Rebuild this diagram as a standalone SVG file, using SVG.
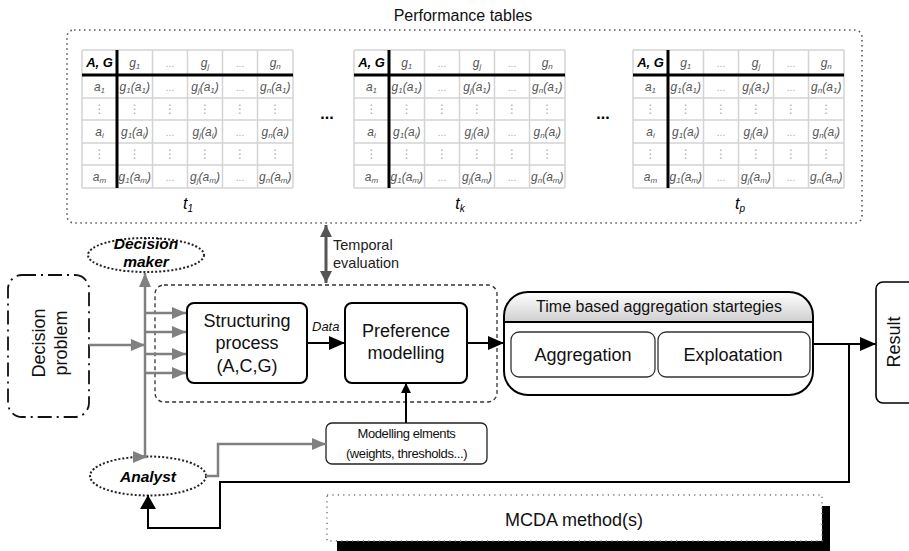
<svg xmlns="http://www.w3.org/2000/svg" width="909" height="551" viewBox="0 0 909 551">
<style>
text{font-family:"Liberation Sans",Arial,sans-serif}
.grid{stroke:#d4d4d4;stroke-width:1.5;fill:none}
.thick{stroke:#000;stroke-width:3;fill:none}
.c{font-size:12px;font-style:italic;fill:#555;text-anchor:middle}
.s{font-size:8px}
.hd{font-size:13px;font-style:italic;font-weight:bold;fill:#000;text-anchor:middle}
.dt{font-size:10px;fill:#aaa;text-anchor:middle}
.v{font-size:12px;fill:#aaa;text-anchor:middle;font-family:"DejaVu Sans",sans-serif}
.tl{font-size:16px;font-style:italic;text-anchor:middle}
.box{fill:#fff;stroke:#000;stroke-width:2}
.lbl{font-size:18px;text-anchor:middle;fill:#111}
.ell{fill:#fff;stroke:#222;stroke-width:2;stroke-dasharray:2 2}
.bi{font-size:15.5px;font-style:italic;font-weight:bold;text-anchor:middle}
.gray{stroke:#808080;stroke-width:2.5;fill:none}
.blk{stroke:#000;stroke-width:2;fill:none}
</style>
<defs>
<linearGradient id="hdr" x1="0" y1="0" x2="0" y2="1"><stop offset="0" stop-color="#fff"/><stop offset="1" stop-color="#cfcfcf"/></linearGradient>
<marker id="ag" markerUnits="userSpaceOnUse" markerWidth="14" markerHeight="12" refX="14" refY="6" orient="auto"><path d="M0,0L14,6L0,12z" fill="#808080"/></marker>
<marker id="ab" markerUnits="userSpaceOnUse" markerWidth="16" markerHeight="14" refX="16" refY="7" orient="auto"><path d="M0,0L16,7L0,14z" fill="#000"/></marker>
<marker id="abs" markerUnits="userSpaceOnUse" markerWidth="10" markerHeight="10" refX="10" refY="5" orient="auto"><path d="M0,0L10,5L0,10z" fill="#000"/></marker>
<marker id="abt" markerUnits="userSpaceOnUse" markerWidth="14" markerHeight="16" refX="14" refY="8" orient="auto"><path d="M0,0L14,8L0,16z" fill="#000"/></marker>
<marker id="ad" markerUnits="userSpaceOnUse" markerWidth="12" markerHeight="12" refX="12" refY="6" orient="auto-start-reverse"><path d="M0,0L12,6L0,12z" fill="#555"/></marker>
</defs>

<!-- Performance tables container -->
<g id="performance-tables">
<rect x="67" y="30" width="795" height="193" rx="7" fill="none" stroke="#555" stroke-width="1.6" stroke-dasharray="1.5 3.5"/>
<text x="463" y="21" font-size="16" text-anchor="middle" fill="#111">Performance tables</text>
<text x="327" y="119" font-size="16" font-weight="bold" text-anchor="middle">...</text>
<text x="603" y="119" font-size="16" font-weight="bold" text-anchor="middle">...</text>
</g>

<g id="table-t1" transform="translate(82,50)">
<path class="grid" d="M0,0H211M0,48H211M0,70H211M0,93H211M0,115H211M0,138H211M0,0V138M70.5,0V138M105.5,0V138M140.5,0V138M175.5,0V138M211,0V138"/>
<path class="thick" d="M0,25H211M35,0V138"/>
<text class="hd" x="17.5" y="17">A, G</text>
<text class="c" x="52.75" y="17">g<tspan class="s" dy="2">1</tspan></text>
<text class="dt" x="88" y="17">...</text>
<text class="c" x="123" y="17">g<tspan class="s" dy="2">j</tspan></text>
<text class="dt" x="158" y="17">...</text>
<text class="c" x="193.25" y="17">g<tspan class="s" dy="2">n</tspan></text>
<text class="c" x="17.5" y="40.5">a<tspan class="s" dy="2">1</tspan></text>
<text class="c" x="52.75" y="40.5">g<tspan class="s" dy="2">1</tspan><tspan dy="-2">(a</tspan><tspan class="s" dy="2">1</tspan><tspan dy="-2">)</tspan></text>
<text class="dt" x="88" y="40.5">...</text>
<text class="c" x="123" y="40.5">g<tspan class="s" dy="2">j</tspan><tspan dy="-2">(a</tspan><tspan class="s" dy="2">1</tspan><tspan dy="-2">)</tspan></text>
<text class="dt" x="158" y="40.5">...</text>
<text class="c" x="193.25" y="40.5">g<tspan class="s" dy="2">n</tspan><tspan dy="-2">(a</tspan><tspan class="s" dy="2">1</tspan><tspan dy="-2">)</tspan></text>
<text class="v" x="17.5" y="63">⋮</text><text class="v" x="52.75" y="63">⋮</text><text class="v" x="88" y="63">⋮</text><text class="v" x="123" y="63">⋮</text><text class="v" x="158" y="63">⋮</text><text class="v" x="193.25" y="63">⋮</text>
<text class="c" x="17.5" y="85.5">a<tspan class="s" dy="2">i</tspan></text>
<text class="c" x="52.75" y="85.5">g<tspan class="s" dy="2">1</tspan><tspan dy="-2">(a</tspan><tspan class="s" dy="2">i</tspan><tspan dy="-2">)</tspan></text>
<text class="dt" x="88" y="85.5">...</text>
<text class="c" x="123" y="85.5">g<tspan class="s" dy="2">j</tspan><tspan dy="-2">(a</tspan><tspan class="s" dy="2">i</tspan><tspan dy="-2">)</tspan></text>
<text class="dt" x="158" y="85.5">...</text>
<text class="c" x="193.25" y="85.5">g<tspan class="s" dy="2">n</tspan><tspan dy="-2">(a</tspan><tspan class="s" dy="2">i</tspan><tspan dy="-2">)</tspan></text>
<text class="v" x="17.5" y="108">⋮</text><text class="v" x="52.75" y="108">⋮</text><text class="v" x="88" y="108">⋮</text><text class="v" x="123" y="108">⋮</text><text class="v" x="158" y="108">⋮</text><text class="v" x="193.25" y="108">⋮</text>
<text class="c" x="17.5" y="130.5">a<tspan class="s" dy="2">m</tspan></text>
<text class="c" x="52.75" y="130.5">g<tspan class="s" dy="2">1</tspan><tspan dy="-2">(a</tspan><tspan class="s" dy="2">m</tspan><tspan dy="-2">)</tspan></text>
<text class="dt" x="88" y="130.5">...</text>
<text class="c" x="123" y="130.5">g<tspan class="s" dy="2">j</tspan><tspan dy="-2">(a</tspan><tspan class="s" dy="2">m</tspan><tspan dy="-2">)</tspan></text>
<text class="dt" x="158" y="130.5">...</text>
<text class="c" x="193.25" y="130.5">g<tspan class="s" dy="2">n</tspan><tspan dy="-2">(a</tspan><tspan class="s" dy="2">m</tspan><tspan dy="-2">)</tspan></text>
<text class="tl" x="106" y="159">t<tspan font-size="10" dy="3">1</tspan></text>
</g>

<g id="table-tk" transform="translate(354,50)">
<path class="grid" d="M0,0H211M0,48H211M0,70H211M0,93H211M0,115H211M0,138H211M0,0V138M70.5,0V138M105.5,0V138M140.5,0V138M175.5,0V138M211,0V138"/>
<path class="thick" d="M0,25H211M35,0V138"/>
<text class="hd" x="17.5" y="17">A, G</text>
<text class="c" x="52.75" y="17">g<tspan class="s" dy="2">1</tspan></text>
<text class="dt" x="88" y="17">...</text>
<text class="c" x="123" y="17">g<tspan class="s" dy="2">j</tspan></text>
<text class="dt" x="158" y="17">...</text>
<text class="c" x="193.25" y="17">g<tspan class="s" dy="2">n</tspan></text>
<text class="c" x="17.5" y="40.5">a<tspan class="s" dy="2">1</tspan></text>
<text class="c" x="52.75" y="40.5">g<tspan class="s" dy="2">1</tspan><tspan dy="-2">(a</tspan><tspan class="s" dy="2">1</tspan><tspan dy="-2">)</tspan></text>
<text class="dt" x="88" y="40.5">...</text>
<text class="c" x="123" y="40.5">g<tspan class="s" dy="2">j</tspan><tspan dy="-2">(a</tspan><tspan class="s" dy="2">1</tspan><tspan dy="-2">)</tspan></text>
<text class="dt" x="158" y="40.5">...</text>
<text class="c" x="193.25" y="40.5">g<tspan class="s" dy="2">n</tspan><tspan dy="-2">(a</tspan><tspan class="s" dy="2">1</tspan><tspan dy="-2">)</tspan></text>
<text class="v" x="17.5" y="63">⋮</text><text class="v" x="52.75" y="63">⋮</text><text class="v" x="88" y="63">⋮</text><text class="v" x="123" y="63">⋮</text><text class="v" x="158" y="63">⋮</text><text class="v" x="193.25" y="63">⋮</text>
<text class="c" x="17.5" y="85.5">a<tspan class="s" dy="2">i</tspan></text>
<text class="c" x="52.75" y="85.5">g<tspan class="s" dy="2">1</tspan><tspan dy="-2">(a</tspan><tspan class="s" dy="2">i</tspan><tspan dy="-2">)</tspan></text>
<text class="dt" x="88" y="85.5">...</text>
<text class="c" x="123" y="85.5">g<tspan class="s" dy="2">j</tspan><tspan dy="-2">(a</tspan><tspan class="s" dy="2">i</tspan><tspan dy="-2">)</tspan></text>
<text class="dt" x="158" y="85.5">...</text>
<text class="c" x="193.25" y="85.5">g<tspan class="s" dy="2">n</tspan><tspan dy="-2">(a</tspan><tspan class="s" dy="2">i</tspan><tspan dy="-2">)</tspan></text>
<text class="v" x="17.5" y="108">⋮</text><text class="v" x="52.75" y="108">⋮</text><text class="v" x="88" y="108">⋮</text><text class="v" x="123" y="108">⋮</text><text class="v" x="158" y="108">⋮</text><text class="v" x="193.25" y="108">⋮</text>
<text class="c" x="17.5" y="130.5">a<tspan class="s" dy="2">m</tspan></text>
<text class="c" x="52.75" y="130.5">g<tspan class="s" dy="2">1</tspan><tspan dy="-2">(a</tspan><tspan class="s" dy="2">m</tspan><tspan dy="-2">)</tspan></text>
<text class="dt" x="88" y="130.5">...</text>
<text class="c" x="123" y="130.5">g<tspan class="s" dy="2">j</tspan><tspan dy="-2">(a</tspan><tspan class="s" dy="2">m</tspan><tspan dy="-2">)</tspan></text>
<text class="dt" x="158" y="130.5">...</text>
<text class="c" x="193.25" y="130.5">g<tspan class="s" dy="2">n</tspan><tspan dy="-2">(a</tspan><tspan class="s" dy="2">m</tspan><tspan dy="-2">)</tspan></text>
<text class="tl" x="106" y="159">t<tspan font-size="10" dy="3">k</tspan></text>
</g>

<g id="table-tp" transform="translate(633,50)">
<path class="grid" d="M0,0H211M0,48H211M0,70H211M0,93H211M0,115H211M0,138H211M0,0V138M70.5,0V138M105.5,0V138M140.5,0V138M175.5,0V138M211,0V138"/>
<path class="thick" d="M0,25H211M35,0V138"/>
<text class="hd" x="17.5" y="17">A, G</text>
<text class="c" x="52.75" y="17">g<tspan class="s" dy="2">1</tspan></text>
<text class="dt" x="88" y="17">...</text>
<text class="c" x="123" y="17">g<tspan class="s" dy="2">j</tspan></text>
<text class="dt" x="158" y="17">...</text>
<text class="c" x="193.25" y="17">g<tspan class="s" dy="2">n</tspan></text>
<text class="c" x="17.5" y="40.5">a<tspan class="s" dy="2">1</tspan></text>
<text class="c" x="52.75" y="40.5">g<tspan class="s" dy="2">1</tspan><tspan dy="-2">(a</tspan><tspan class="s" dy="2">1</tspan><tspan dy="-2">)</tspan></text>
<text class="dt" x="88" y="40.5">...</text>
<text class="c" x="123" y="40.5">g<tspan class="s" dy="2">j</tspan><tspan dy="-2">(a</tspan><tspan class="s" dy="2">1</tspan><tspan dy="-2">)</tspan></text>
<text class="dt" x="158" y="40.5">...</text>
<text class="c" x="193.25" y="40.5">g<tspan class="s" dy="2">n</tspan><tspan dy="-2">(a</tspan><tspan class="s" dy="2">1</tspan><tspan dy="-2">)</tspan></text>
<text class="v" x="17.5" y="63">⋮</text><text class="v" x="52.75" y="63">⋮</text><text class="v" x="88" y="63">⋮</text><text class="v" x="123" y="63">⋮</text><text class="v" x="158" y="63">⋮</text><text class="v" x="193.25" y="63">⋮</text>
<text class="c" x="17.5" y="85.5">a<tspan class="s" dy="2">i</tspan></text>
<text class="c" x="52.75" y="85.5">g<tspan class="s" dy="2">1</tspan><tspan dy="-2">(a</tspan><tspan class="s" dy="2">i</tspan><tspan dy="-2">)</tspan></text>
<text class="dt" x="88" y="85.5">...</text>
<text class="c" x="123" y="85.5">g<tspan class="s" dy="2">j</tspan><tspan dy="-2">(a</tspan><tspan class="s" dy="2">i</tspan><tspan dy="-2">)</tspan></text>
<text class="dt" x="158" y="85.5">...</text>
<text class="c" x="193.25" y="85.5">g<tspan class="s" dy="2">n</tspan><tspan dy="-2">(a</tspan><tspan class="s" dy="2">i</tspan><tspan dy="-2">)</tspan></text>
<text class="v" x="17.5" y="108">⋮</text><text class="v" x="52.75" y="108">⋮</text><text class="v" x="88" y="108">⋮</text><text class="v" x="123" y="108">⋮</text><text class="v" x="158" y="108">⋮</text><text class="v" x="193.25" y="108">⋮</text>
<text class="c" x="17.5" y="130.5">a<tspan class="s" dy="2">m</tspan></text>
<text class="c" x="52.75" y="130.5">g<tspan class="s" dy="2">1</tspan><tspan dy="-2">(a</tspan><tspan class="s" dy="2">m</tspan><tspan dy="-2">)</tspan></text>
<text class="dt" x="88" y="130.5">...</text>
<text class="c" x="123" y="130.5">g<tspan class="s" dy="2">j</tspan><tspan dy="-2">(a</tspan><tspan class="s" dy="2">m</tspan><tspan dy="-2">)</tspan></text>
<text class="dt" x="158" y="130.5">...</text>
<text class="c" x="193.25" y="130.5">g<tspan class="s" dy="2">n</tspan><tspan dy="-2">(a</tspan><tspan class="s" dy="2">m</tspan><tspan dy="-2">)</tspan></text>
<text class="tl" x="107" y="159">t<tspan font-size="10" dy="3">p</tspan></text>
</g>

<!-- MCDA method box -->
<g id="mcda-method">
<rect x="337" y="506" width="493" height="50" fill="#000"/>
<rect x="327" y="495" width="495" height="46" fill="#fff" stroke="#777" stroke-width="1.4" stroke-dasharray="1.2 4.2"/>
<text x="574" y="526" font-size="18" text-anchor="middle" fill="#111">MCDA method(s)</text>
</g>

<g id="mcda-frame">
<rect x="155" y="285" width="342" height="117" rx="9" fill="none" stroke="#333" stroke-width="1.3" stroke-dasharray="4 3"/>
</g>

<g id="decision-problem">
<rect x="8" y="275" width="81" height="142" rx="14" fill="#fff" stroke="#111" stroke-width="1.8" stroke-dasharray="14 5 2 5"/>
<text class="lbl" transform="translate(45,343) rotate(-90)" x="0" y="0">Decision</text>
<text class="lbl" transform="translate(67,343) rotate(-90)" x="0" y="0">problem</text>
</g>

<g id="decision-maker">
<ellipse class="ell" cx="146" cy="255" rx="58" ry="17"/>
<text class="bi" x="146" y="249">Decision</text>
<text class="bi" x="146" y="267">maker</text>
</g>

<g id="analyst">
<ellipse class="ell" cx="148" cy="476" rx="58" ry="19.5"/>
<text class="bi" x="148" y="482" font-size="16">Analyst</text>
</g>

<g id="structuring">
<rect class="box" x="187" y="303" width="120" height="80" rx="7"/>
<text class="lbl" x="247" y="327">Structuring</text>
<text class="lbl" x="247" y="349">process</text>
<text class="lbl" x="247" y="372">(A,C,G)</text>
</g>

<g id="preference">
<rect class="box" x="345" y="303" width="122" height="80" rx="7"/>
<text class="lbl" x="406" y="337">Preference</text>
<text class="lbl" x="406" y="359">modelling</text>
</g>

<g id="modelling-elements">
<rect x="326" y="423" width="161" height="41" rx="6" fill="#fff" stroke="#222" stroke-width="1.3"/>
<text x="406.5" y="438" font-size="13" letter-spacing="-0.4" text-anchor="middle" fill="#111">Modelling elments</text>
<text x="406.5" y="458" font-size="13" letter-spacing="-0.4" text-anchor="middle" fill="#111">(weights, thresholds...)</text>
</g>

<g id="time-based">
<path d="M504,322V316A24,24 0 0 1 528,292H789A24,24 0 0 1 813,316V322Z" fill="url(#hdr)"/>
<rect x="504" y="292" width="309" height="103" rx="24" fill="none" stroke="#000" stroke-width="2"/>
<line x1="504" y1="322" x2="813" y2="322" stroke="#000" stroke-width="2"/>
<text x="659" y="312" font-size="16" text-anchor="middle" fill="#111">Time based aggregation startegies</text>
</g>

<g id="aggregation">
<rect x="511" y="332" width="144" height="45" rx="8" fill="#fff" stroke="#333" stroke-width="1.3"/>
<text class="lbl" x="583" y="361" font-size="18.5">Aggregation</text>
</g>

<g id="exploatation">
<rect x="658" y="332" width="152" height="45" rx="8" fill="#fff" stroke="#333" stroke-width="1.3"/>
<text class="lbl" x="733" y="361" font-size="18.5">Exploatation</text>
</g>

<g id="result">
<rect x="876" y="282" width="50" height="121" rx="7" fill="#fff" stroke="#000" stroke-width="1.6"/>
<text class="lbl" transform="translate(900,342) rotate(-90)" x="0" y="0">Result</text>
</g>

<g id="connectors">
<path class="gray" d="M89,345H145" marker-end="url(#ag)"/>
<path class="gray" d="M145,457V273" marker-end="url(#ag)"/>
<path class="gray" d="M145,313H186" marker-end="url(#ag)"/>
<path class="gray" d="M145,332H186" marker-end="url(#ag)"/>
<path class="gray" d="M145,354H186" marker-end="url(#ag)"/>
<path class="gray" d="M145,373H186" marker-end="url(#ag)"/>
<path class="gray" d="M140,457H147" marker-end="url(#ag)"/>
<path class="gray" d="M206,476H218V444H326" marker-end="url(#ag)"/>
<path class="blk" d="M307,343H345" marker-end="url(#ab)"/>
<text x="312" y="331" font-size="13" font-style="italic" fill="#111">Data</text>
<path class="blk" d="M467,343H504" marker-end="url(#ab)"/>
<path class="blk" d="M813,344H876" stroke-width="2.5" marker-end="url(#ab)"/>
<path class="blk" d="M406,423V383" stroke-width="1.5" marker-end="url(#abs)"/>
<path class="blk" d="M849,344V482H220V528H148V495" stroke-width="3" marker-end="url(#abt)"/>
<path d="M326,225V283" stroke="#555" stroke-width="3" fill="none" marker-start="url(#ad)" marker-end="url(#ad)"/>
<text x="333" y="250" font-size="14.5" fill="#222">Temporal</text>
<text x="333" y="268" font-size="14.5" fill="#222">evaluation</text>
</g>
</svg>
